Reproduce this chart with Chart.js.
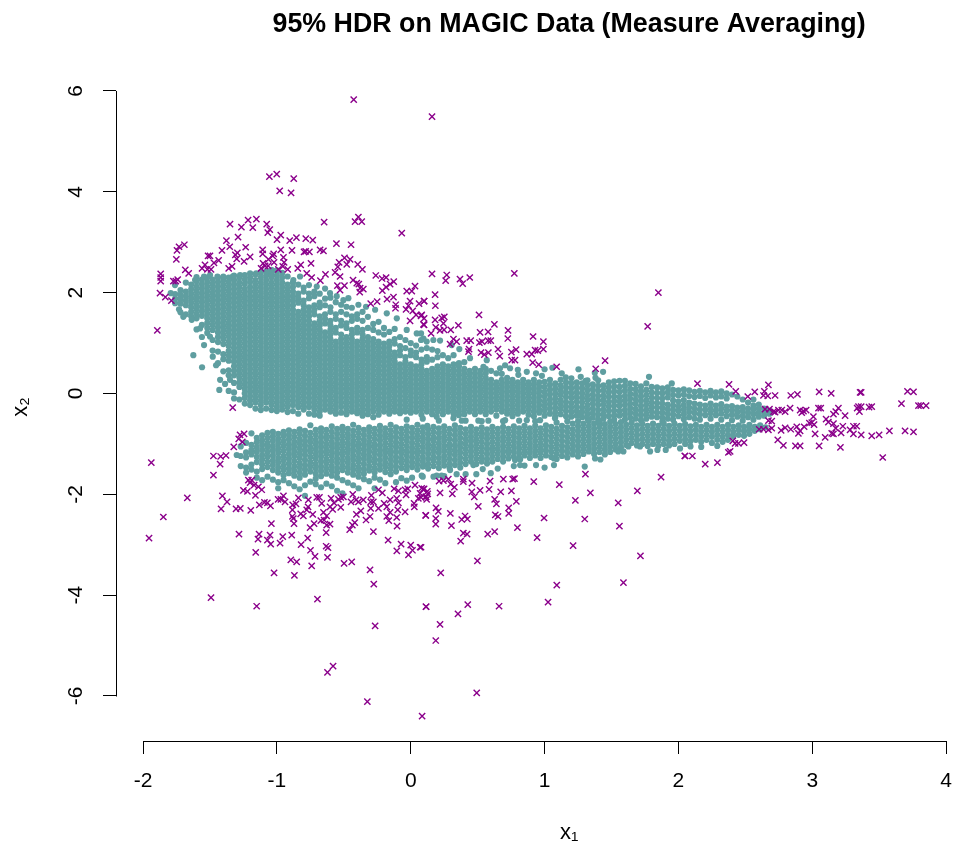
<!DOCTYPE html>
<html>
<head>
<meta charset="utf-8">
<title>95% HDR on MAGIC Data</title>
<script src="https://cdn.jsdelivr.net/npm/chart.js@4"></script>
<style>
  html, body { margin: 0; background: #fff; overflow: hidden; }
  #quadro { width: 955px; height: 844px; overflow: hidden; }
</style>
</head>
<body>
<div id="quadro"><canvas id="grafico" width="1028" height="844"></canvas></div>
<script>
const titulo = '95% HDR on MAGIC Data (Measure Averaging)';
const xTicks = [-2, -1, 0, 1, 2, 3, 4];
const yTicks = [-6, -4, -2, 0, 2, 4, 6];

const foraTopo = [-0.426,5.83, 0.159,5.49, -1.056,4.30, -1.001,4.35, -0.874,4.26, -0.979,4.02, -0.894,3.98, -1.35,3.36, -1.215,3.44, -1.153,3.46, -1.265,3.30, -1.18,3.29, -1.076,3.36, -1.053,3.25, -1.068,3.19, -1.29,3.10, -1.377,3.03, -0.971,3.14, -0.999,3.05, -0.904,3.03, -0.854,3.09, -0.784,3.07, -0.732,3.04, -0.647,3.40, -0.391,3.50, -0.416,3.41, -0.366,3.41, -0.067,3.18, -0.446,2.95, -0.555,2.97, -1.691,2.95, -1.731,2.91, -1.746,2.84, -1.751,2.66, -1.352,2.91, -1.233,2.90, -1.41,2.84, -1.106,2.85, -1.106,2.77, -0.971,2.85, -0.887,2.84, -0.797,2.81, -0.757,2.81, -0.785,2.82, -0.677,2.85, -0.652,2.83, -1.295,2.79, -1.31,2.75, -1.3,2.67, -1.2,2.71, -1.245,2.62, -1.514,2.73, -1.5,2.73, -1.435,2.64, -1.47,2.59, -1.024,2.77, -1.031,2.73, -1.063,2.66, -1.021,2.60, -1.103,2.58, -1.088,2.53, -0.951,2.70, -0.946,2.60, -0.956,2.52, -0.919,2.46, -0.822,2.55, -0.844,2.48, -0.745,2.58, -0.777,2.38, -0.74,2.30, -0.495,2.69, -0.453,2.66, -0.535,2.60, -0.478,2.56, -0.396,2.56, -0.361,2.46, -0.545,2.51, -0.565,2.40, -0.528,2.32, -0.637,2.36, -0.675,2.24, -0.431,2.25, -0.403,2.19, -0.388,2.17, -0.548,2.14, -0.495,2.14, -0.528,2.05, -0.378,2.09, -0.354,2.07, -0.381,2.01, -0.261,2.34, -0.214,2.28, -0.184,2.30, -0.127,2.22, -0.154,2.17, -0.184,2.11, -0.212,2.04, 0.032,2.13, -0.03,2.03, 0.008,2.03, -0.299,1.78, -0.251,1.82, -0.177,1.87, -0.129,1.91, -0.112,1.76, -0.114,1.69, -0.005,1.83, -0.017,1.74, -0.035,1.67, 0.015,1.64, 0.062,1.78, 0.10,1.83, 0.04,1.56, 0.077,1.54, -0.005,1.44, 0.095,1.37, -1.559,2.48, -1.537,2.55, -1.519,2.46, -1.492,2.46, -1.684,2.45, -1.659,2.38, -1.335,2.52, -1.36,2.48, -1.868,2.37, -1.868,2.23, -1.773,2.23, -1.741,2.26, -1.755,2.23, -1.873,1.99, -1.833,1.91, -1.788,1.84, -1.893,1.25, -1.118,2.48, -1.065,2.53, -0.989,2.46, -1.868,2.30];
const foraMeioCima = [0.159,2.37, 0.269,2.35, 0.261,2.24, 0.368,2.27, 0.388,2.18, 0.441,2.30, 0.774,2.38, 1.85,2.0, 1.77,1.33, 0.182,1.96, 0.1,1.83, 0.184,1.74, 0.51,1.56, 0.625,1.37, 0.082,1.56, 0.1,1.49, 0.182,1.46, 0.231,1.50, 0.251,1.52, 0.244,1.39, 0.1,1.36, 0.356,1.35, 0.187,1.31, 0.219,1.25, 0.249,1.26, 0.299,1.26, 0.152,1.19, 0.727,1.25, 0.518,1.21, 0.578,1.22, 0.725,1.09, 0.914,1.13, 0.319,1.08, 0.343,1.03, 0.294,0.98, 0.418,1.05, 0.448,1.05, 0.513,1.01, 0.533,1.03, 0.578,1.05, 0.598,1.05, 0.991,1.03, 0.436,0.88, 0.431,0.83, 0.652,0.88, 0.525,0.81, 0.58,0.81, 0.55,0.77, 0.665,0.74, 0.752,0.82, 0.787,0.87, 0.929,0.86, 0.949,0.85, 0.991,0.88, 0.867,0.78, 0.904,0.78, 0.754,0.66, 0.779,0.66, 0.911,0.61, 0.956,0.57, 1.09,0.53, 1.382,0.49, 1.452,0.65];
const foraDireita = [2.142,0.196, 2.378,0.18, 2.428,0.04, 2.518,-0.06, 2.57,0.03, 2.672,0.17, 2.642,0.04, 2.635,-0.04, 2.667,-0.05, 2.722,-0.04, 2.839,-0.04, 2.889,-0.02, 3.051,0.03, 3.141,0.0, 3.357,0.02, 3.365,0.02, 3.711,0.04, 3.756,0.03, 3.666,-0.2, 3.793,-0.24, 3.81,-0.24, 3.85,-0.24, 3.444,-0.26, 3.424,-0.27, 3.345,-0.26, 3.335,-0.29, 3.365,-0.26, 3.352,-0.36, 3.195,-0.29, 3.175,-0.36, 3.158,-0.41, 3.245,-0.44, 3.046,-0.29, 3.063,-0.29, 3.008,-0.46, 3.103,-0.51, 3.12,-0.57, 3.158,-0.6, 2.996,-0.58, 2.978,-0.59, 3.013,-0.62, 2.934,-0.35, 2.909,-0.33, 2.954,-0.33, 2.921,-0.38, 2.834,-0.29, 2.797,-0.36, 2.772,-0.33, 2.747,-0.33, 2.722,-0.37, 2.68,-0.31, 2.647,-0.31, 2.71,-0.36, 2.672,-0.54, 2.697,-0.55, 2.603,-0.71, 2.635,-0.71, 2.672,-0.72, 2.697,-0.69, 2.767,-0.73, 2.797,-0.68, 2.839,-0.71, 2.884,-0.66, 2.909,-0.74, 2.939,-0.66, 2.896,-0.79, 3.021,-0.8, 3.096,-0.87, 3.145,-0.79, 3.158,-0.8, 3.215,-0.78, 3.228,-0.65, 3.175,-0.69, 3.282,-0.72, 3.307,-0.65, 3.332,-0.65, 3.307,-0.80, 3.365,-0.82, 3.444,-0.84, 3.499,-0.82, 3.576,-0.74, 3.693,-0.74, 3.756,-0.76, 2.742,-0.92, 2.784,-1.03, 2.874,-1.04, 2.909,-1.04, 3.051,-1.04, 3.21,-1.07, 3.526,-1.27, 2.406,-0.94, 2.423,-0.99, 2.448,-0.99, 2.49,-0.975, 2.386,-1.15, 2.373,-1.17, 2.047,-1.24, 2.104,-1.24, 2.2,-1.40, 2.291,-1.37];
const foraBaixoEsq = [-1.33,-0.28, -1.938,-1.37, -1.275,-0.82, -1.245,-0.80, -1.285,-0.90, -1.258,-0.96, -1.322,-1.06, -1.474,-1.24, -1.42,-1.25, -1.38,-1.23, -1.424,-1.40, -1.474,-1.62, -1.669,-2.07, -1.848,-2.45, -1.955,-2.87, -1.213,-1.72, -1.188,-1.72, -1.2,-1.77, -1.17,-1.82, -1.138,-1.85, -1.113,-1.91, -1.25,-1.92, -1.22,-1.94, -1.16,-2.02, -1.407,-2.03, -1.372,-2.15, -1.305,-2.29, -1.273,-2.28, -1.417,-2.29, -1.195,-2.32, -1.131,-2.21, -1.093,-2.16, -1.071,-2.17, -1.048,-2.23, -0.991,-2.10, -0.951,-2.03, -0.939,-2.15, -0.97,-2.1, -0.882,-2.21, -0.857,-2.19, -0.839,-2.07, -0.884,-2.31, -0.765,-2.11, -0.702,-2.06, -0.682,-2.06, -0.665,-2.18, -0.767,-2.25, -0.777,-2.31, -0.732,-2.40, -0.802,-2.43, -0.822,-2.39, -0.884,-2.44, -0.877,-2.48, -0.872,-2.58, -1.041,-2.58, -1.283,-2.79, -1.133,-2.79, -1.141,-2.89, -1.051,-2.81, -1.071,-2.91, -1.046,-2.99, -0.976,-2.97, -0.956,-2.84, -0.889,-2.81, -0.77,-2.87, -0.819,-3.0, -1.158,-3.15, -0.749,-3.11, -0.715,-3.23, -0.896,-3.30, -0.852,-3.34, -0.74,-3.42, -1.021,-3.56, -0.869,-3.61, -0.632,-3.03, -0.618,-3.06, -0.622,-3.25, -0.498,-3.37, -0.441,-3.34, -0.304,-3.50, -0.276,-3.78, -0.697,-4.08, -1.492,-4.05, -1.151,-4.22, 0.115,-4.23, -0.266,-4.61, -0.58,-5.41, -0.622,-5.53, -0.324,-6.11, 0.085,-6.40];
const foraBaixoMeio = [-0.752,-2.66, -0.722,-2.58, -0.632,-2.76, -0.603,-2.59, -0.628,-2.61, -0.647,-2.51, -0.672,-2.52, -0.652,-2.36, -0.628,-2.43, -0.603,-2.25, -0.573,-2.17, -0.583,-2.30, -0.523,-2.26, -0.54,-2.10, -0.523,-2.06, -0.503,-2.05, -0.595,-2.08, -0.433,-2.0, -0.446,-2.15, -0.408,-2.11, -0.391,-2.15, -0.354,-2.11, -0.299,-2.15, -0.279,-2.15, -0.299,-2.28, -0.373,-2.33, -0.406,-2.40, -0.304,-2.44, -0.334,-2.51, -0.418,-2.56, -0.436,-2.61, -0.456,-2.70, -0.279,-2.74, -0.241,-2.28, -0.199,-2.18, -0.179,-2.25, -0.154,-2.11, -0.105,-2.08, -0.092,-2.17, -0.097,-2.31, -0.042,-2.35, -0.105,-2.46, -0.154,-2.36, -0.179,-2.44, -0.164,-2.52, -0.102,-2.63, -0.169,-2.91, -0.072,-2.99, -0.104,-3.12, 0.0,-3.01, 0.013,-3.11, -0.017,-3.20, 0.07,-3.05, 0.112,-2.42, -0.241,-1.91, -0.212,-1.97, -0.124,-1.89, -0.092,-1.93, -0.042,-1.91, -0.022,-1.89, -0.035,-2.01, 0.032,-1.82, 0.082,-1.88, 0.1,-1.89, 0.07,-1.98, 0.115,-2.05, 0.127,-1.99, 0.057,-2.08, 0.025,-2.18, 0.027,-2.25, -0.294,-2.02];
const foraBaixoDir = [2.05,-1.24, 1.87,-1.66, 1.693,-1.93, 1.305,-1.60, 1.11,-1.81, 0.919,-1.75, 0.762,-1.70, 0.775,-1.69, 0.692,-1.70, 0.593,-1.74, 0.458,-1.78, 0.393,-1.70, 0.393,-1.75, 0.281,-1.70, 0.244,-1.73, 0.212,-1.74, 0.299,-1.80, 0.326,-1.86, 0.585,-1.90, 0.518,-1.92, 0.456,-1.95, 0.475,-2.05, 0.219,-1.97, 0.311,-1.99, 0.094,-1.90, 0.124,-1.94, 0.077,-2.06, 0.112,-2.05, 0.119,-2.10, 0.672,-1.95, 0.752,-1.93, 1.342,-1.97, 1.23,-2.12, 0.789,-2.14, 0.627,-2.10, 0.64,-2.19, 0.505,-2.24, 1.55,-2.17, 0.189,-2.27, 0.206,-2.34, 0.112,-2.42, 0.296,-2.38, 0.187,-2.48, 0.187,-2.59, 0.304,-2.62, 0.381,-2.50, 0.406,-2.43, 0.423,-2.49, 0.632,-2.41, 0.652,-2.44, 0.732,-2.27, 0.732,-2.38, 0.996,-2.47, 1.30,-2.49, 1.559,-2.63, 0.797,-2.66, 0.627,-2.74, 0.575,-2.79, 0.393,-2.77, 0.421,-2.79, 0.373,-2.93, 0.944,-2.86, 1.213,-3.02, 0.498,-3.32, 1.716,-3.22, 0.077,-3.05, 0.224,-3.56, 1.091,-3.80, 1.589,-3.75, 0.114,-4.23, 0.426,-4.19, 0.353,-4.37, 0.66,-4.22, 1.026,-4.14, 0.219,-4.58, 0.187,-4.90, 0.493,-5.94];

const bordaCima = [1.253,.48, 1.27,.33, 1.307,.25, 1.375,.41, 1.38,.31, 1.437,.43, 1.6,.25, 1.78,.33, 1.95,.2, 1.128,.4, 1.158,.32, 1.058,.51, 1.0,.48, .98,.35, .936,.4, .867,.43, .667,.5, .705,.56, .742,.5, .804,.37, .568,.66, .543,.53, .443,.7, .363,.88, .306,.96, .219,1.05, .169,1.06, .119,1.03, .077,1.19, .077,1.06, -1.624,.76, -1.559,.52, -1.479,.73, -1.544,.96, -1.43,.07, -1.424,.27, -1.387,.19, -1.35,.27, -1.454,.56, -1.731,1.67, -1.699,1.52, -1.636,1.46, -1.574,1.29, -1.5,1.13, -1.793,1.99, -1.761,2.15, -1.611,2.25, -1.544,2.32, -1.499,2.35, -1.444,2.32, -1.4,2.32, -1.33,2.32, -1.275,2.35, -1.155,2.38, -1.076,2.42, -1.001,2.44, -.827,2.32, -.877,2.25, -.702,2.12, -.603,1.99, -.553,1.93, -.466,1.89, -.503,1.85, -.391,1.76, -.334,1.72, -.266,1.66, -.179,1.59, -.104,1.49, -.03,1.26, .045,1.19, .095,1.09];
const bordaBaixo = [.505,-.54, .58,-.54, .381,-.54, .124,-.64, .867,-.53, .705,-.53, .966,-.53, 1.078,-.49, 1.265,-.39, .319,-.49, .194,-.46, 1.07,-1.29, 1.0,-1.47, 1.07,-1.42, 1.377,-1.29, 1.417,-1.31, 1.3,-1.45, .817,-1.42, .779,-1.32, .817,-1.31, .936,-1.42, .598,-1.58, .538,-1.5, .468,-1.42, .343,-1.6, .294,-1.52, .231,-1.63, .194,-1.63, .082,-1.63, .094,-1.42, 1.788,-1.15, 1.843,-1.12, 1.905,-1.12, 2.012,-1.09, 1.589,-1.15, 1.55,-1.15, 1.713,-1.05, 1.626,-1.05];

// points inside the region, estimated column by column: [x, y, y, ...]
const regiaoCimaEsq = [
[-1.76,1.97,1.88,1.79],
[-1.72,2.05,1.96,1.87,1.78,1.61],
[-1.68,2.2,2.02,1.93,1.84,1.75,1.57],
[-1.64,2.16,2.07,1.98,1.89,1.8,1.71,1.62,1.53],
[-1.60,2.31,2.22,2.12,2.03,1.94,1.85,1.76,1.67,1.58,1.49,1.27],
[-1.56,2.26,2.17,2.08,1.99,1.9,1.81,1.72,1.63,1.54,1.36,1.12],
[-1.52,2.3,2.21,2.12,2.03,1.94,1.85,1.76,1.67,1.58,1.49,1.4,1.3,1.2],
[-1.48,2.26,2.17,2.08,1.99,1.9,1.81,1.72,1.63,1.54,1.45,1.36,1.26,1.06,.85],
[-1.44,2.3,2.21,2.12,2.03,1.94,1.85,1.76,1.67,1.58,1.49,1.4,1.31,1.21,1.12,1.02,0.83,0.6],
[-1.40,2.25,2.16,2.07,1.98,1.89,1.8,1.71,1.62,1.53,1.44,1.35,1.26,1.17,1.08,0.98,0.78,0.68,0.44],
[-1.36,2.3,2.21,2.12,2.03,1.94,1.85,1.76,1.67,1.58,1.49,1.4,1.31,1.22,1.13,1.03,0.94,0.84,0.75,0.65,0.46,0.36,0.05],
[-1.32,2.34,2.25,2.16,2.07,1.98,1.89,1.8,1.71,1.62,1.53,1.44,1.35,1.26,1.17,1.08,0.99,0.9,0.81,0.72,0.63,0.54,0.45,0.36,0.21,0.02,-0.1],
[-1.28,2.3,2.2,2.11,2.02,1.93,1.84,1.75,1.66,1.57,1.48,1.39,1.3,1.21,1.12,1.03,0.94,0.85,0.76,0.67,0.58,0.49,0.4,0.31,0.22,0.13,-0.12],
[-1.24,2.35,2.26,2.17,2.07,1.98,1.89,1.8,1.71,1.62,1.53,1.44,1.35,1.26,1.17,1.08,0.99,0.9,0.81,0.72,0.63,0.54,0.45,0.36,0.27,0.18,0.09,0,-0.09,-0.2],
[-1.20,2.38,2.3,2.21,2.11,2.02,1.93,1.84,1.75,1.66,1.57,1.48,1.39,1.3,1.21,1.12,1.03,0.94,0.85,0.76,0.67,0.58,0.49,0.4,0.31,0.22,0.13,0.04,-0.05,-0.14,-0.23],
[-1.16,2.36,2.25,2.16,2.07,1.98,1.89,1.8,1.71,1.62,1.53,1.44,1.35,1.26,1.17,1.08,0.99,0.9,0.81,0.72,0.63,0.54,0.45,0.36,0.27,0.18,0.09,0,-0.09,-0.18,-0.3],
[-1.12,2.4,2.3,2.2,2.11,2.02,1.93,1.84,1.75,1.66,1.57,1.48,1.39,1.3,1.21,1.12,1.03,0.94,0.85,0.76,0.67,0.58,0.49,0.4,0.31,0.22,0.13,0.04,-0.05,-0.14,-0.23,-0.33],
[-1.08,2.42,2.34,2.25,2.16,2.07,1.98,1.89,1.8,1.71,1.62,1.53,1.44,1.35,1.26,1.17,1.08,0.99,0.9,0.81,0.72,0.63,0.54,0.45,0.36,0.27,0.18,0.09,0,-0.09,-0.18,-0.3],
[-1.04,2.45,2.38,2.3,2.2,2.11,2.02,1.93,1.84,1.75,1.66,1.57,1.48,1.39,1.3,1.21,1.12,1.03,0.94,0.85,0.76,0.67,0.58,0.49,0.4,0.31,0.22,0.13,0.04,-0.05,-0.14,-0.23,-0.33],
[-1.00,2.43,2.34,2.25,2.16,2.07,1.98,1.89,1.8,1.71,1.62,1.53,1.44,1.35,1.26,1.17,1.08,0.99,0.9,0.81,0.72,0.63,0.54,0.45,0.36,0.27,0.18,0.09,0,-0.09,-0.18,-0.27,-0.35],
[-0.96,2.39,2.3,2.2,2.11,2.02,1.93,1.84,1.75,1.66,1.57,1.48,1.39,1.3,1.21,1.12,1.03,0.94,0.85,0.76,0.67,0.58,0.49,0.4,0.31,0.22,0.13,0.04,-0.05,-0.14,-0.23,-0.32],
[-0.92,2.32,2.16,2.07,1.98,1.89,1.8,1.71,1.62,1.53,1.44,1.35,1.26,1.17,1.08,0.99,0.9,0.81,0.72,0.63,0.54,0.45,0.36,0.27,0.18,0.09,0,-0.09,-0.18,-0.27,-0.37],
[-0.88,2.2,2.11,2.02,1.93,1.84,1.75,1.66,1.57,1.48,1.39,1.3,1.21,1.12,1.03,0.94,0.85,0.76,0.67,0.58,0.49,0.4,0.31,0.22,0.13,0.04,-0.05,-0.14,-0.23,-0.35],
[-0.84,2.16,1.98,1.89,1.8,1.62,1.53,1.44,1.35,1.26,1.17,1.08,0.99,0.9,0.81,0.72,0.63,0.54,0.45,0.36,0.27,0.18,0.09,0,-0.09,-0.18,-0.27,-0.4],
[-0.80,2.1,2.02,1.84,1.75,1.66,1.57,1.48,1.39,1.3,1.21,1.12,1.03,0.94,0.85,0.76,0.67,0.58,0.49,0.4,0.31,0.22,0.13,0.04,-0.05,-0.14,-0.23,-0.32],
[-0.76,2.15,1.98,1.89,1.71,1.62,1.53,1.44,1.35,1.26,1.17,1.08,0.99,0.9,0.81,0.72,0.63,0.54,0.45,0.36,0.27,0.18,0.09,0,-0.09,-0.18,-0.27,-0.4],
[-0.72,2.02,1.93,1.75,1.66,1.57,1.39,1.3,1.21,1.12,1.03,0.94,0.85,0.76,0.67,0.58,0.49,0.4,0.31,0.22,0.13,0.04,-0.05,-0.14,-0.23,-0.32,-0.42],
[-0.68,1.98,1.8,1.71,1.53,1.44,1.35,1.26,1.17,1.08,0.99,0.9,0.81,0.72,0.63,0.54,0.45,0.36,0.27,0.18,0.09,0,-0.09,-0.18,-0.27,-0.36,-0.44],
[-0.64,2.08,1.88,1.75,1.57,1.48,1.39,1.21,1.12,1.03,0.94,0.85,0.76,0.67,0.58,0.49,0.4,0.31,0.22,0.13,0.04,-0.05,-0.14,-0.23,-0.32],
[-0.60,1.9,1.71,1.62,1.44,1.35,1.26,1.17,1.08,0.99,0.9,0.81,0.72,0.63,0.54,0.45,0.36,0.27,0.18,0.09,0,-0.09,-0.18,-0.27,-0.36],
[-0.56,1.81,1.57,1.48,1.3,1.21,1.03,0.94,0.85,0.76,0.67,0.58,0.49,0.4,0.31,0.22,0.13,0.04,-0.05,-0.14,-0.23,-0.32,-0.4],
[-0.52,1.76,1.62,1.44,1.35,1.17,1.08,0.99,0.9,0.81,0.72,0.63,0.54,0.45,0.36,0.27,0.18,0.09,0,-0.09,-0.18,-0.27,-0.38]
];
const regiaoCimaMeio = [
[-0.48,1.72,1.57,1.39,1.3,1.12,1.03,0.94,0.85,0.76,0.67,0.58,0.49,0.4,0.31,0.22,0.13,0.04,-0.05,-0.14,-0.23,-0.32,-0.41],
[-0.44,1.7,1.53,1.44,1.26,1.17,1.08,0.99,0.9,0.81,0.72,0.63,0.54,0.45,0.36,0.27,0.18,0.09,0,-0.09,-0.18,-0.27,-0.36],
[-0.40,1.57,1.48,1.3,1.21,1.03,0.94,0.85,0.76,0.67,0.58,0.49,0.4,0.31,0.22,0.13,0.04,-0.05,-0.14,-0.23,-0.32,-0.39],
[-0.36,1.62,1.44,1.26,1.17,1.08,0.99,0.9,0.81,0.72,0.63,0.54,0.45,0.36,0.27,0.18,0.09,0,-0.09,-0.18,-0.27,-0.36,-0.44],
[-0.32,1.52,1.3,1.12,1.03,0.94,0.85,0.76,0.67,0.58,0.49,0.4,0.31,0.22,0.13,0.04,-0.05,-0.14,-0.23,-0.32,-0.41],
[-0.28,1.38,1.26,1.08,0.99,0.9,0.81,0.72,0.63,0.54,0.45,0.36,0.27,0.18,0.09,0,-0.09,-0.18,-0.27,-0.36,-0.47],
[-0.24,1.42,1.21,1.03,0.94,0.85,0.76,0.67,0.58,0.49,0.4,0.31,0.22,0.13,0.04,-0.05,-0.14,-0.23,-0.32,-0.42],
[-0.20,1.3,1.17,0.99,0.9,0.81,0.72,0.63,0.54,0.45,0.36,0.27,0.18,0.09,0,-0.09,-0.18,-0.27,-0.36],
[-0.16,1.22,1.03,0.94,0.85,0.76,0.67,0.58,0.49,0.4,0.31,0.22,0.13,0.04,-0.05,-0.14,-0.23,-0.32,-0.4],
[-0.12,1.28,1.08,0.99,0.81,0.72,0.63,0.54,0.45,0.36,0.27,0.18,0.09,0,-0.09,-0.18,-0.27,-0.36],
[-0.08,1.12,0.94,0.85,0.76,0.58,0.49,0.4,0.31,0.22,0.13,0.04,-0.05,-0.14,-0.23,-0.32,-0.39],
[-0.04,1.06,0.9,0.72,0.63,0.54,0.45,0.36,0.27,0.18,0.09,0,-0.09,-0.18,-0.27,-0.36],
[0.00,1.0,0.85,0.76,0.58,0.49,0.4,0.31,0.22,0.13,0.04,-0.05,-0.14,-0.23,-0.32,-0.38],
[0.04,0.95,0.81,0.72,0.54,0.45,0.36,0.27,0.18,0.09,0,-0.09,-0.18,-0.27,-0.36],
[0.08,0.87,0.67,0.58,0.49,0.4,0.31,0.22,0.13,0.04,-0.05,-0.14,-0.23,-0.32,-0.42],
[0.12,0.9,0.72,0.63,0.45,0.36,0.27,0.18,0.09,0,-0.09,-0.18,-0.27,-0.36],
[0.16,0.87,0.67,0.49,0.4,0.31,0.22,0.13,0.04,-0.05,-0.14,-0.23,-0.32,-0.41],
[0.20,0.84,0.72,0.54,0.45,0.36,0.27,0.18,0.09,0,-0.09,-0.18,-0.27,-0.36],
[0.24,0.76,0.58,0.49,0.4,0.31,0.22,0.13,0.04,-0.05,-0.14,-0.23,-0.32,-0.41],
[0.28,0.7,0.54,0.45,0.36,0.27,0.18,0.09,0,-0.09,-0.18,-0.27,-0.36],
[0.32,0.76,0.58,0.49,0.4,0.31,0.22,0.13,0.04,-0.05,-0.14,-0.23,-0.32,-0.4],
[0.36,0.6,0.54,0.45,0.36,0.27,0.18,0.09,0,-0.09,-0.18,-0.27,-0.36,-0.43],
[0.40,0.62,0.49,0.4,0.31,0.22,0.13,0.04,-0.05,-0.14,-0.23,-0.32,-0.41],
[0.44,0.45,0.36,0.27,0.18,0.09,0,-0.09,-0.18,-0.27,-0.36],
[0.48,0.49,0.4,0.31,0.22,0.13,0.04,-0.05,-0.14,-0.23,-0.32,-0.41],
[0.52,0.45,0.36,0.27,0.18,0.09,0,-0.09,-0.18,-0.27,-0.36],
[0.56,0.49,0.4,0.31,0.22,0.13,0.04,-0.05,-0.14,-0.23,-0.32,-0.41],
[0.60,0.45,0.27,0.18,0.09,0,-0.09,-0.18,-0.27,-0.36],
[0.64,0.4,0.22,0.13,0.04,-0.05,-0.14,-0.23,-0.32,-0.44],
[0.68,0.39,0.27,0.18,0.09,0,-0.09,-0.18,-0.27,-0.36],
[0.72,0.31,0.22,0.13,0.04,-0.05,-0.14,-0.23,-0.32,-0.4],
[0.76,0.27,0.18,0.09,0,-0.09,-0.18,-0.27,-0.36,-0.45],
[0.80,0.47,0.22,0.13,0.04,-0.05,-0.14,-0.23,-0.32,-0.4],
[0.84,0.27,0.18,0.09,0,-0.09,-0.18,-0.27,-0.36],
[0.88,0.22,0.13,0.04,-0.05,-0.14,-0.23,-0.32,-0.42],
[0.92,0.27,0.18,0.09,0,-0.09,-0.18,-0.27,-0.36,-0.45],
[0.96,0.22,0.13,0.04,-0.05,-0.14,-0.23,-0.32,-0.38]
];
const regiaoCimaDir = [
[1.00,0.23,0.13,0.03,-0.06,-0.16,-0.25,-0.34,-0.44],
[1.04,0.27,0.17,0.07,-0.02,-0.12,-0.21,-0.3,-0.4],
[1.08,0.2,0.1,0,-0.09,-0.18,-0.28,-0.37,-0.46],
[1.12,0.27,0.16,0.06,-0.03,-0.13,-0.22,-0.31,-0.41],
[1.16,0.22,0.12,0.02,-0.07,-0.17,-0.26,-0.35,-0.45],
[1.20,0.3,0.2,0.1,0,-0.09,-0.19,-0.28,-0.37,-0.46],
[1.24,0.22,0.12,0.02,-0.07,-0.16,-0.26,-0.35,-0.44],
[1.28,0.2,0.1,0,-0.09,-0.18,-0.28,-0.37,-0.47],
[1.32,0.26,0.16,0.06,-0.04,-0.13,-0.23,-0.32,-0.41,-0.5],
[1.36,0.18,0.08,-0.02,-0.11,-0.2,-0.3,-0.39,-0.48],
[1.40,0.26,0.15,0.05,-0.05,-0.14,-0.23,-0.33,-0.42,-0.52],
[1.44,0.16,0.06,-0.04,-0.13,-0.22,-0.32,-0.41,-0.5],
[1.48,0.22,0.12,0.02,-0.07,-0.17,-0.26,-0.35,-0.45],
[1.52,0.24,0.14,0.04,-0.06,-0.15,-0.24,-0.34,-0.43,-0.52],
[1.56,0.25,0.13,0.03,-0.07,-0.16,-0.25,-0.35,-0.44],
[1.60,0.15,0.05,-0.05,-0.14,-0.23,-0.33,-0.42,-0.52],
[1.64,0.2,0.09,-0.01,-0.1,-0.2,-0.29,-0.38,-0.48],
[1.68,0.19,0.08,-0.02,-0.12,-0.21,-0.31,-0.4,-0.5],
[1.72,0.14,0.04,-0.06,-0.15,-0.25,-0.34,-0.43,-0.53],
[1.76,0.2,0.07,-0.03,-0.13,-0.22,-0.32,-0.41,-0.5],
[1.80,0.13,0.02,-0.08,-0.18,-0.27,-0.36,-0.46],
[1.84,0.12,0.01,-0.09,-0.19,-0.28,-0.38,-0.47],
[1.88,0.1,0,-0.1,-0.2,-0.29,-0.38,-0.48,-0.56],
[1.92,0.12,0.02,-0.08,-0.22,-0.31,-0.4,-0.5],
[1.96,0.07,-0.03,-0.14,-0.24,-0.33,-0.42,-0.52],
[2.00,0.06,-0.04,-0.16,-0.26,-0.35,-0.45],
[2.04,0.08,-0.02,-0.13,-0.23,-0.32,-0.41,-0.51],
[2.08,0.06,-0.05,-0.18,-0.28,-0.37,-0.47],
[2.12,0.03,-0.07,-0.2,-0.3,-0.39,-0.5],
[2.16,0.05,-0.05,-0.22,-0.32,-0.41,-0.52],
[2.20,0.02,-0.09,-0.24,-0.33,-0.43],
[2.24,0.05,-0.04,-0.2,-0.3,-0.39,-0.5],
[2.28,0.02,-0.08,-0.24,-0.34,-0.43],
[2.32,0.04,-0.06,-0.21,-0.3,-0.4,-0.52],
[2.36,0,-0.1,-0.26,-0.35,-0.45],
[2.40,-0.02,-0.25,-0.33,-0.42,-0.53],
[2.44,-0.06,-0.28,-0.37,-0.46],
[2.48,-0.12,-0.27,-0.35,-0.44,-0.54],
[2.52,-0.18,-0.3,-0.38,-0.47],
[2.56,-0.12,-0.24,-0.32,-0.41,-0.52],
[2.60,-0.22,-0.3,-0.38,-0.46],
[2.64,-0.3,-0.37,-0.44],
[2.68,-0.34,-0.4]
];
const regiaoBaixoEsq = [
[-1.30,-1.22],
[-1.27,-1.05,-1.24,-1.44],
[-1.23,-0.98,-1.17,-1.27,-1.47,-1.57],
[-1.19,-0.79,-1.02,-1.12,-1.21,-1.41,-1.51],
[-1.15,-0.88,-0.97,-1.07,-1.16,-1.26,-1.36,-1.55,-1.67],
[-1.11,-0.83,-0.93,-1.02,-1.12,-1.22,-1.31,-1.41,-1.5,-1.72],
[-1.07,-0.78,-0.88,-0.98,-1.07,-1.17,-1.26,-1.36,-1.46,-1.65],
[-1.03,-0.76,-0.85,-0.94,-1.04,-1.13,-1.23,-1.33,-1.42,-1.52,-1.71],
[-0.99,-0.8,-0.9,-0.99,-1.09,-1.18,-1.28,-1.37,-1.47,-1.57,-1.76,-1.88],
[-0.95,-0.76,-0.85,-0.95,-1.04,-1.14,-1.24,-1.33,-1.43,-1.52,-1.62,-1.72],
[-0.91,-0.73,-0.82,-0.91,-1.01,-1.1,-1.2,-1.29,-1.39,-1.49,-1.58,-1.78],
[-0.87,-0.76,-0.86,-0.96,-1.05,-1.15,-1.24,-1.34,-1.44,-1.53,-1.63,-1.84],
[-0.83,-0.71,-0.8,-0.9,-0.99,-1.09,-1.19,-1.28,-1.38,-1.47,-1.57,-1.67,-1.9],
[-0.79,-0.74,-0.84,-0.94,-1.03,-1.13,-1.22,-1.32,-1.42,-1.51,-1.61,-1.82,-2.03],
[-0.75,-0.63,-0.78,-0.88,-0.97,-1.07,-1.16,-1.26,-1.36,-1.45,-1.55,-1.75],
[-0.71,-0.72,-0.82,-0.92,-1.01,-1.11,-1.21,-1.3,-1.4,-1.49,-1.59,-1.69,-1.8],
[-0.67,-0.69,-0.77,-0.87,-0.97,-1.06,-1.16,-1.25,-1.35,-1.45,-1.54,-1.64,-1.86],
[-0.63,-0.72,-0.82,-0.91,-1.01,-1.11,-1.2,-1.3,-1.39,-1.49,-1.59,-1.79],
[-0.59,-0.65,-0.76,-0.86,-0.96,-1.05,-1.15,-1.24,-1.34,-1.44,-1.53,-1.63,-1.84],
[-0.55,-0.7,-0.8,-0.9,-1.0,-1.09,-1.19,-1.29,-1.38,-1.48,-1.57,-1.67,-1.93],
[-0.51,-0.66,-0.75,-0.85,-0.95,-1.04,-1.14,-1.23,-1.33,-1.43,-1.52,-1.72,-1.98],
[-0.47,-0.7,-0.8,-0.89,-0.99,-1.09,-1.18,-1.28,-1.37,-1.47,-1.57,-1.77],
[-0.43,-0.62,-0.74,-0.84,-0.94,-1.03,-1.13,-1.23,-1.32,-1.42,-1.51,-1.61,-1.82],
[-0.39,-0.68,-0.78,-0.88,-0.98,-1.07,-1.17,-1.27,-1.36,-1.46,-1.55,-1.65,-1.88],
[-0.35,-0.72,-0.82,-0.92,-1.01,-1.11,-1.21,-1.3,-1.4,-1.5,-1.59,-1.7],
[-0.31,-0.67,-0.76,-0.86,-0.96,-1.05,-1.15,-1.25,-1.34,-1.44,-1.53,-1.74],
[-0.27,-0.7,-0.8,-0.9,-1.0,-1.09,-1.19,-1.29,-1.38,-1.48,-1.57,-1.67,-1.88],
[-0.23,-0.64,-0.74,-0.84,-0.93,-1.03,-1.13,-1.22,-1.32,-1.42,-1.51,-1.71],
[-0.19,-0.69,-0.79,-0.88,-0.98,-1.08,-1.17,-1.27,-1.37,-1.46,-1.56,-1.78],
[-0.15,-0.62,-0.73,-0.83,-0.92,-1.02,-1.12,-1.21,-1.31,-1.41,-1.5,-1.6],
[-0.11,-0.67,-0.77,-0.87,-0.97,-1.06,-1.16,-1.26,-1.35,-1.45,-1.55,-1.76],
[-0.07,-0.7,-0.8,-0.9,-1.0,-1.1,-1.19,-1.29,-1.38,-1.48,-1.68],
[-0.03,-0.52,-0.65,-0.75,-0.85,-0.94,-1.04,-1.14,-1.23,-1.33,-1.43,-1.52,-1.73]
];
const regiaoBaixoMeio = [
[0.01,-0.68,-0.78,-0.88,-0.98,-1.08,-1.17,-1.27,-1.37,-1.46,-1.67],
[0.05,-0.62,-0.73,-0.83,-0.92,-1.02,-1.12,-1.21,-1.31,-1.41,-1.51],
[0.09,-0.5,-0.67,-0.77,-0.87,-0.96,-1.06,-1.16,-1.26,-1.35,-1.45,-1.65],
[0.13,-0.71,-0.81,-0.91,-1.01,-1.1,-1.2,-1.3,-1.4,-1.49],
[0.17,-0.66,-0.76,-0.86,-0.95,-1.05,-1.15,-1.25,-1.34,-1.44,-1.65],
[0.21,-0.54,-0.69,-0.79,-0.89,-0.99,-1.09,-1.18,-1.28,-1.38,-1.48],
[0.25,-0.65,-0.75,-0.85,-0.94,-1.04,-1.14,-1.24,-1.33,-1.43,-1.64],
[0.29,-0.7,-0.8,-0.9,-1.0,-1.09,-1.19,-1.29,-1.39,-1.48],
[0.33,-0.63,-0.73,-0.83,-0.93,-1.03,-1.13,-1.22,-1.32,-1.42],
[0.37,-0.68,-0.78,-0.88,-0.98,-1.07,-1.17,-1.27,-1.37,-1.47],
[0.41,-0.54,-0.71,-0.81,-0.91,-1.0,-1.1,-1.2,-1.3,-1.4,-1.6],
[0.45,-0.66,-0.76,-0.86,-0.95,-1.05,-1.15,-1.25,-1.35],
[0.49,-0.71,-0.81,-0.91,-1.0,-1.1,-1.2,-1.3,-1.4,-1.6],
[0.53,-0.55,-0.67,-0.77,-0.86,-0.96,-1.06,-1.16,-1.26,-1.35],
[0.57,-0.71,-0.81,-0.9,-1.0,-1.1,-1.2,-1.3,-1.39],
[0.61,-0.66,-0.76,-0.86,-0.96,-1.06,-1.15,-1.25,-1.35],
[0.65,-0.7,-0.8,-0.9,-1.0,-1.1,-1.2,-1.3,-1.49],
[0.69,-0.55,-0.66,-0.76,-0.86,-0.95,-1.05,-1.15,-1.25,-1.35],
[0.73,-0.7,-0.8,-0.9,-1.0,-1.1,-1.19,-1.29],
[0.77,-0.65,-0.75,-0.85,-0.95,-1.05,-1.15,-1.25,-1.44],
[0.81,-0.54,-0.69,-0.79,-0.89,-0.99,-1.09,-1.19,-1.28],
[0.85,-0.64,-0.74,-0.84,-0.94,-1.04,-1.14,-1.23,-1.43],
[0.89,-0.69,-0.79,-0.89,-0.99,-1.09,-1.18,-1.28],
[0.93,-0.55,-0.64,-0.74,-0.84,-0.94,-1.04,-1.14,-1.23],
[0.97,-0.69,-0.79,-0.89,-0.99,-1.09,-1.18,-1.28],
[1.01,-0.63,-0.73,-0.83,-0.93,-1.03,-1.13,-1.23],
[1.05,-0.66,-0.76,-0.86,-0.96,-1.06,-1.16,-1.26],
[1.09,-0.58,-0.7,-0.8,-0.9,-1.0,-1.1,-1.2,-1.3],
[1.13,-0.64,-0.74,-0.84,-0.94,-1.04,-1.14,-1.24],
[1.17,-0.55,-0.67,-0.77,-0.87,-0.97,-1.07,-1.17,-1.27],
[1.21,-0.6,-0.71,-0.81,-0.91,-1.01,-1.11,-1.21],
[1.25,-0.55,-0.65,-0.75,-0.85,-0.95,-1.05,-1.15,-1.25],
[1.29,-0.6,-0.7,-0.8,-0.9,-1.0,-1.1,-1.2]
];
const regiaoBaixoDir = [
[1.33,-0.55,-0.65,-0.75,-0.85,-0.95,-1.05,-1.15],
[1.37,-0.6,-0.7,-0.8,-0.9,-1.0,-1.1,-1.2],
[1.41,-0.58,-0.66,-0.76,-0.86,-0.96,-1.06,-1.16],
[1.45,-0.61,-0.71,-0.81,-0.91,-1.01,-1.11,-1.21],
[1.49,-0.56,-0.66,-0.76,-0.86,-0.96,-1.06,-1.16],
[1.53,-0.61,-0.71,-0.81,-0.91,-1.01,-1.11],
[1.57,-0.57,-0.67,-0.77,-0.87,-0.97,-1.07],
[1.61,-0.62,-0.72,-0.82,-0.92,-1.02],
[1.65,-0.58,-0.68,-0.78,-0.88,-0.98],
[1.69,-0.63,-0.73,-0.83,-0.93,-1.03],
[1.73,-0.6,-0.7,-0.8,-0.9,-1.0],
[1.77,-0.64,-0.74,-0.84,-0.94,-1.04],
[1.81,-0.6,-0.7,-0.8,-0.9,-1.0],
[1.85,-0.64,-0.74,-0.84,-0.94,-1.04],
[1.89,-0.6,-0.7,-0.8,-0.9,-1.0],
[1.93,-0.64,-0.74,-0.84,-0.94,-1.03],
[1.97,-0.6,-0.7,-0.8,-0.9,-1.0],
[2.01,-0.64,-0.74,-0.84,-0.94],
[2.05,-0.61,-0.71,-0.81,-0.91,-1.0],
[2.09,-0.65,-0.75,-0.85,-0.95,-1.05],
[2.13,-0.62,-0.72,-0.82,-0.92],
[2.17,-0.66,-0.76,-0.86,-0.96,-1.06],
[2.21,-0.62,-0.72,-0.82,-0.92],
[2.25,-0.66,-0.76,-0.86,-0.98],
[2.29,-0.62,-0.72,-0.82,-0.92,-1.04],
[2.33,-0.66,-0.76,-0.86,-0.96],
[2.37,-0.62,-0.72,-0.82,-0.92],
[2.41,-0.66,-0.76,-0.85],
[2.45,-0.63,-0.72,-0.82],
[2.49,-0.66,-0.75,-0.84],
[2.53,-0.62,-0.71,-0.8],
[2.57,-0.66,-0.74],
[2.61,-0.63,-0.71],
[2.65,-0.67]
];

function pares(lista) {
  const saida = [];
  for (let i = 0; i < lista.length; i += 2) saida.push({ x: lista[i], y: lista[i + 1] });
  return saida;
}

function colunas(lista) {
  return lista.flatMap(c => c.slice(1).map(y => ({ x: c[0], y: y })));
}

const pontosFora = [foraTopo, foraMeioCima, foraDireita, foraBaixoEsq, foraBaixoMeio, foraBaixoDir].flatMap(pares);
const pontosRegiao = [regiaoCimaEsq, regiaoCimaMeio, regiaoCimaDir, regiaoBaixoEsq, regiaoBaixoMeio, regiaoBaixoDir].flatMap(colunas)
  .concat(pares(bordaCima), pares(bordaBaixo));

// R style axis: the line only runs between the first and last tick
const eixosR = {
  id: 'eixosR',
  afterDraw(chart) {
    const { x, y } = chart.scales;
    const c = chart.ctx;
    c.save();
    c.strokeStyle = '#000';
    c.lineWidth = 1;
    c.beginPath();
    c.moveTo(x.left + 0.5, y.getPixelForValue(6));
    c.lineTo(x.left + 0.5, y.getPixelForValue(-6) + 0.5);
    c.moveTo(x.getPixelForValue(-2), y.bottom + 0.5);
    c.lineTo(x.getPixelForValue(4) + 0.5, y.bottom + 0.5);
    c.stroke();
    c.restore();
  }
};

const fonte = { family: '"Liberation Sans", Arial, sans-serif', size: 21 };
const fonteEixo = { family: fonte.family, size: 22 };

new Chart(document.getElementById('grafico'), {
  type: 'scatter',
  data: {
    datasets: [
      {
        label: 'dentro',
        data: pontosRegiao,
        order: 2,
        backgroundColor: '#5F9EA0',
        borderColor: '#5F9EA0',
        borderWidth: 0,
        pointRadius: 3.1
      },
      {
        label: 'fora',
        data: pontosFora,
        order: 1,
        pointStyle: 'crossRot',
        borderColor: '#8B008B',
        backgroundColor: '#8B008B',
        borderWidth: 1.4,
        pointRadius: 4.4
      }
    ]
  },
  plugins: [eixosR],
  options: {
    responsive: false,
    animation: false,
    plugins: {
      legend: { display: false },
      tooltip: { enabled: false },
      title: {
        display: true,
        text: titulo,
        fullSize: false,
        color: '#000',
        font: { family: fonte.family, size: 26.8, weight: 'bold' },
        padding: { top: 9, bottom: 31.8 }
      }
    },
    scales: {
      x: {
        type: 'linear',
        min: -2.2018,
        max: 4.568,
        afterBuildTicks: s => { s.ticks = xTicks.map(v => ({ value: v })); },
        afterFit: s => { s.height = 103; },
        border: { display: false },
        grid: { drawOnChartArea: false, tickLength: 13, tickColor: '#000', tickWidth: 1 },
        ticks: { color: '#000', font: fonte, padding: 15, autoSkip: false, maxRotation: 0, callback: v => String(v) },
        title: { display: true, text: 'x₁', color: '#000', font: fonteEixo, padding: { top: 0, bottom: -2 } }
      },
      y: {
        type: 'linear',
        min: -6.893,
        max: 6.357,
        afterBuildTicks: s => { s.ticks = yTicks.map(v => ({ value: v })); },
        afterFit: s => { s.width = 116; },
        border: { display: false },
        grid: { drawOnChartArea: false, tickLength: 13, tickColor: '#000', tickWidth: 1 },
        ticks: { color: '#000', font: fonte, padding: 17, autoSkip: false, minRotation: 90, maxRotation: 90, crossAlign: 'center', callback: v => String(v) },
        title: { display: true, text: 'x₂', color: '#000', font: fonteEixo, padding: { top: 8, bottom: 0 } }
      }
    }
  }
});
</script>
</body>
</html>
